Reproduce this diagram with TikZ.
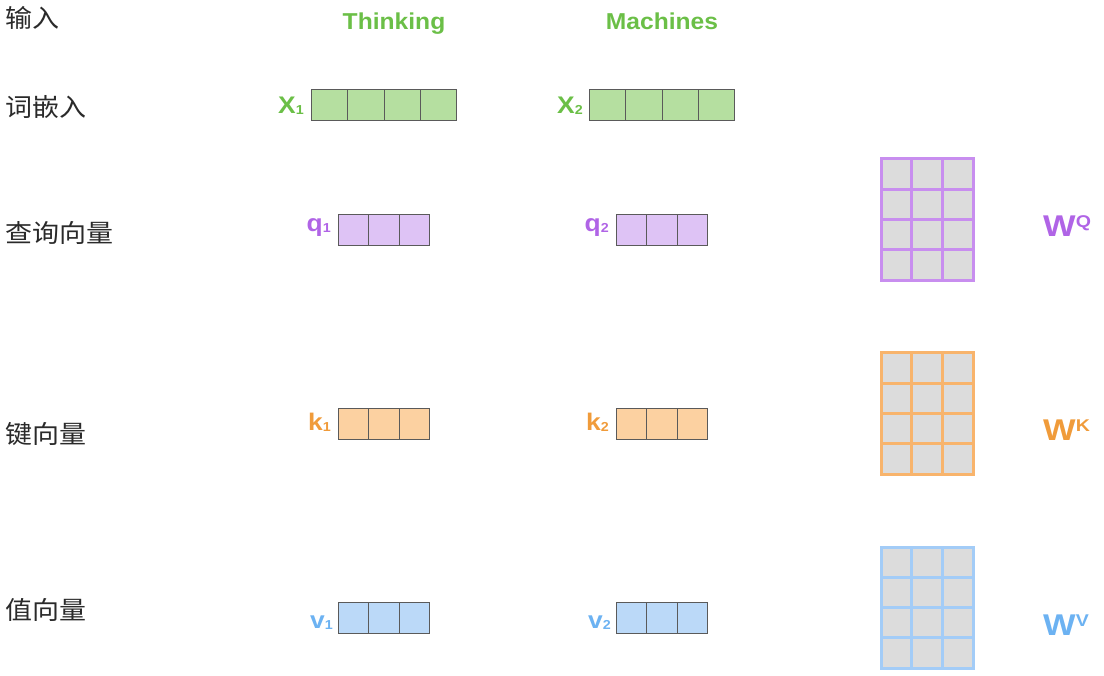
\documentclass[tikz,border=0pt]{standalone}
\usepackage{graphicx}
\usepackage{fontspec}
\setmainfont{Liberation Sans}
\newfontfamily\cjk{Noto Sans CJK SC}
\definecolor{grn}{HTML}{6BBF47}
\definecolor{gfill}{HTML}{B5DFA0}
\definecolor{cellline}{HTML}{5A5A5A}
\definecolor{purp}{HTML}{B064E6}
\definecolor{qfill}{HTML}{DEC3F5}
\definecolor{qline}{HTML}{C88EEF}
\definecolor{orng}{HTML}{F09B3A}
\definecolor{kfill}{HTML}{FCD1A1}
\definecolor{kline}{HTML}{F8B46C}
\definecolor{blu}{HTML}{6CB2F2}
\definecolor{vfill}{HTML}{BBD9F8}
\definecolor{vline}{HTML}{A3CCF7}
\definecolor{matfill}{HTML}{DCDCDC}
\definecolor{txt}{HTML}{2A2A2A}
\newcommand\vlab[2]{\scalebox{1.1}[1]{\fontsize{24}{24}\selectfont\bfseries #1\raisebox{-1pt}{\fontsize{13}{13}\selectfont #2}}}
\newcommand\wlab[2]{\scalebox{1.15}[1]{\fontsize{30}{30}\selectfont\bfseries W\raisebox{9pt}{\fontsize{17}{17}\selectfont #2}}}
\newcommand\cntext[1]{\scalebox{1.08}[1]{\cjk\fontsize{25}{25}\selectfont #1}}
\begin{document}
\begin{tikzpicture}[x=1pt,y=-1pt,
  vcell/.style={draw=cellline,line width=1pt,inner sep=0pt,minimum height=31pt,anchor=north west},
  mcell/.style={draw=#1,fill=matfill,line width=3pt,inner sep=0pt,minimum width=30.67pt,minimum height=30.3pt,anchor=north west},
  cnlab/.style={text=txt,anchor=base west,inner sep=0pt},
  lab/.style={anchor=base east,inner sep=0pt},
  wl/.style={anchor=base west,inner sep=0pt},
  word/.style={text=grn,anchor=base,inner sep=0pt,font=\fontsize{23}{23}\selectfont\bfseries}]
\useasboundingbox (0,0) rectangle (1104,676);
% left labels
\node[cnlab] (l1) at (5,27.5) {\cntext{输入}};
\node[cnlab] (l2) at (5,116.5) {\cntext{词嵌入}};
\node[cnlab] (l3) at (5,243) {\cntext{查询向量}};
\node[cnlab] (l4) at (5,443) {\cntext{键向量}};
\node[cnlab] (l5) at (5,619) {\cntext{值向量}};
% words
\node[word] (w1) at (394,30) {\scalebox{1.07}[1]{Thinking}};
\node[word] (w2) at (662,30) {\scalebox{1.07}[1]{Machines}};
% embeddings
\foreach \i in {1,...,4} {
  \node[vcell,minimum width=36.25pt,fill=gfill] (xa\i) at ({311+(\i-1)*36.25},89) {};
  \node[vcell,minimum width=36.25pt,fill=gfill] (xb\i) at ({589+(\i-1)*36.25},89) {};
}
\node[lab,text=grn] (x1) at (304,114) {\vlab{X}{1}};
\node[lab,text=grn] (x2) at (583,114) {\vlab{X}{2}};
% q k v vectors
\foreach \i in {1,...,3} {
  \node[vcell,minimum width=30.33pt,fill=qfill] (qa\i) at ({338+(\i-1)*30.33},214) {};
  \node[vcell,minimum width=30.33pt,fill=qfill] (qb\i) at ({616+(\i-1)*30.33},214) {};
  \node[vcell,minimum width=30.33pt,fill=kfill] (ka\i) at ({338+(\i-1)*30.33},408.5) {};
  \node[vcell,minimum width=30.33pt,fill=kfill] (kb\i) at ({616+(\i-1)*30.33},408.5) {};
  \node[vcell,minimum width=30.33pt,fill=vfill] (va\i) at ({338+(\i-1)*30.33},602) {};
  \node[vcell,minimum width=30.33pt,fill=vfill] (vb\i) at ({616+(\i-1)*30.33},602) {};
}
\node[lab,text=purp] (q1) at (331,232) {\vlab{q}{1}};
\node[lab,text=purp] (q2) at (609,232) {\vlab{q}{2}};
\node[lab,text=orng] (k1) at (331,431) {\vlab{k}{1}};
\node[lab,text=orng] (k2) at (609,431) {\vlab{k}{2}};
\node[lab,text=blu] (v1) at (333,628) {\vlab{v}{1}};
\node[lab,text=blu] (v2) at (611,628) {\vlab{v}{2}};
% weight matrices
\foreach \r in {1,...,4} {
  \foreach \c in {1,...,3} {
    \node[mcell=qline] (mq\r\c) at ({879.5+(\c-1)*30.67},{157.5+(\r-1)*30.3}) {};
    \node[mcell=kline] (mk\r\c) at ({879.5+(\c-1)*30.67},{351.5+(\r-1)*30.3}) {};
    \node[mcell=vline] (mv\r\c) at ({879.5+(\c-1)*30.67},{545.5+(\r-1)*30.3}) {};
  }
}
\node[wl,text=purp] (wq) at (1043,237) {\wlab{W}{Q}};
\node[wl,text=orng] (wk) at (1043,440) {\wlab{W}{K}};
\node[wl,text=blu] (wv) at (1043,635) {\wlab{W}{V}};
\end{tikzpicture}
\end{document}
